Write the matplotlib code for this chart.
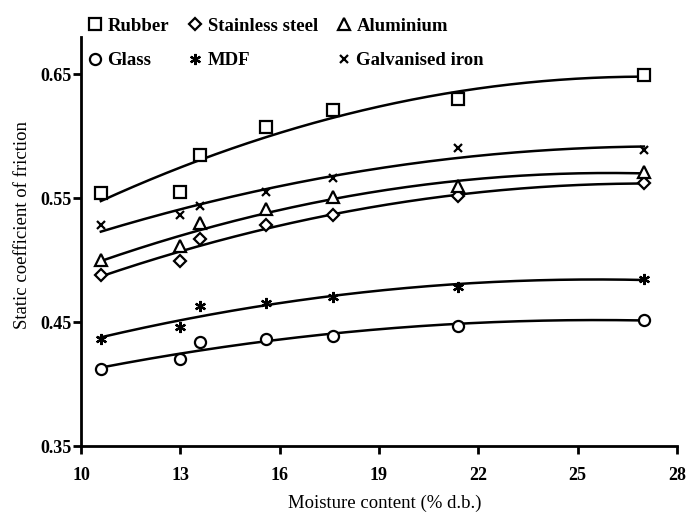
import numpy as np
import matplotlib
matplotlib.use("Agg")
import matplotlib.pyplot as plt

plt.rcParams['font.family'] = ['Liberation Serif', 'DejaVu Serif']

# moisture content (% d.b.)
moisture = [10.6, 13.0, 13.6, 15.6, 17.6, 21.4, 27.0]

# static coefficient of friction
rubber = [0.554, 0.555, 0.585, 0.607, 0.621, 0.630, 0.649]
stainless = [0.488, 0.499, 0.517, 0.528, 0.536, 0.552, 0.562]
aluminium = [0.500, 0.511, 0.530, 0.541, 0.551, 0.560, 0.571]
glass = [0.412, 0.420, 0.434, 0.436, 0.439, 0.447, 0.452]
mdf = [0.436, 0.446, 0.463, 0.465, 0.470, 0.478, 0.485]
galvanised = [0.528, 0.536, 0.544, 0.555, 0.566, 0.590, 0.589]

names = ['Rubber', 'Glass', 'Stainless steel', 'MDF', 'Aluminium', 'Galvanised iron']
series = [rubber, glass, stainless, mdf, aluminium, galvanised]
markers = ['s', 'o', 'D', (6, 2, 0), '^', 'x']
msizes = [9, 8, 6.5, 8, 8, 6]

fig = plt.figure(figsize=(6.88, 5.13), dpi=100)
ax = fig.add_axes([0.1177, 0.1306, 0.8663, 0.7974])

x = np.array(moisture)
xs = np.linspace(x.min(), x.max(), 200)
handles = []
for name, y, m, ms in zip(names, series, markers, msizes):
    # quadratic trend line like the original figure
    coef = np.polyfit(x, y, 2)
    ax.plot(xs, np.polyval(coef, xs), color='black', lw=1.8)
    h, = ax.plot(x, y, linestyle='none', marker=m, markersize=ms,
                 markerfacecolor='white', markeredgecolor='black',
                 markeredgewidth=1.6, label=name)
    handles.append(h)

ax.set_xlim(10, 28)
ax.set_ylim(0.35, 0.68)
ax.set_xticks(range(10, 29, 3))
ax.set_yticks([0.35, 0.45, 0.55, 0.65])
ax.set_yticklabels(['0.35', '0.45', '0.55', '0.65'])

for s in ['top', 'right']:
    ax.spines[s].set_visible(False)
for s in ['left', 'bottom']:
    ax.spines[s].set_linewidth(2)
ax.tick_params(direction='out', length=6, width=2, labelsize=13)
ax.tick_params(axis='x', pad=9)
ax.tick_params(axis='y', pad=1)
for lab in ax.get_xticklabels() + ax.get_yticklabels():
    lab.set_fontweight('bold')

ax.set_xlabel('Moisture content (% d.b.)', fontsize=13.5)
ax.xaxis.set_label_coords(0.51, -0.118)
ax.set_ylabel('Static coefficient of friction', fontsize=13.5)
ax.yaxis.set_label_coords(-0.084, 0.54)

leg = fig.legend(handles=handles, ncol=3, frameon=False, loc='upper left',
                 bbox_to_anchor=(0.106, 0.999),
                 handlelength=0.6, handletextpad=0.35, columnspacing=1.1,
                 labelspacing=0.95, prop={'weight': 'bold', 'size': 13.5})

fig.savefig('out.png', dpi=100)
